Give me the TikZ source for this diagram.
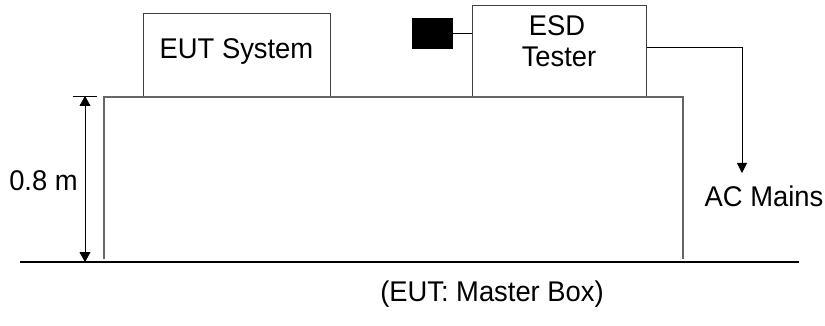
\documentclass[tikz,border=0pt]{standalone}
\usepackage{fontspec}
\setmainfont{Liberation Sans}[FakeStretch=0.96]
\usetikzlibrary{arrows.meta}
\begin{document}
\begin{tikzpicture}[x=1pt,y=-1pt,
  lbl/.style={font=\fontsize{28.5}{31}\selectfont, inner sep=0pt, anchor=base},
  box/.style={draw=black!75, line width=1pt, inner sep=0pt},
  thinline/.style={draw=black, line width=0.8pt},
  tip/.style={-{Triangle[width=10pt,length=10pt]}},
  tablelines/.style={draw=black!60, line width=1.1pt}]
\useasboundingbox (0,0) rectangle (825,326);
% boxes
\node[box, minimum width=187pt, minimum height=83pt] (eut) at (236.5,55.5) {};
\node[lbl] (euttext) at (236.5,59) {EUT System};
\node[box, minimum width=174pt, minimum height=91pt] (esd) at (559,51.5) {};
\node[lbl] (esdtext) at (557,36) {ESD};
\node[lbl] (testertext) at (559,67) {Tester};
\node[draw=black, fill=black, minimum width=40pt, minimum height=30pt, inner sep=0pt] (probe) at (432,33) {};
\draw[thinline] (probe.east) -- (probe.east -| esd.west);
% table
\coordinate (tbl) at (104,259);
\coordinate (ttl) at (104,97);
\coordinate (ttr) at (683,97);
\coordinate (tbr) at (683,259);
\draw[tablelines] (tbl) -- (ttl) -- (ttr) -- (tbr);
% ground
\coordinate (gl) at (20,262);
\coordinate (gr) at (799,262);
\draw[draw=black, line width=1.1pt] (gl) -- (gr);
% dimension
\coordinate (dtop) at (85,96);
\coordinate (dbot) at (85,262);
\coordinate (tickl) at (73,96);
\coordinate (tickr) at (97,96);
\draw[thinline] (tickl) -- (tickr);
\draw[thinline, {Triangle[width=11pt,length=10pt]}-{Triangle[width=11pt,length=10pt]}] (dtop) -- (dbot);
\node[lbl] (dim) at (43.5,190) {0.8 m};
% AC mains
\node[lbl] (ac) at (764,207) {AC Mains};
\coordinate (acend) at (742,173);
\draw[thinline, tip] ([yshift=4.5pt]esd.east) -| (acend);
% caption
\node[lbl] (cap) at (492,301) {(EUT: Master Box)};
\end{tikzpicture}
\end{document}
